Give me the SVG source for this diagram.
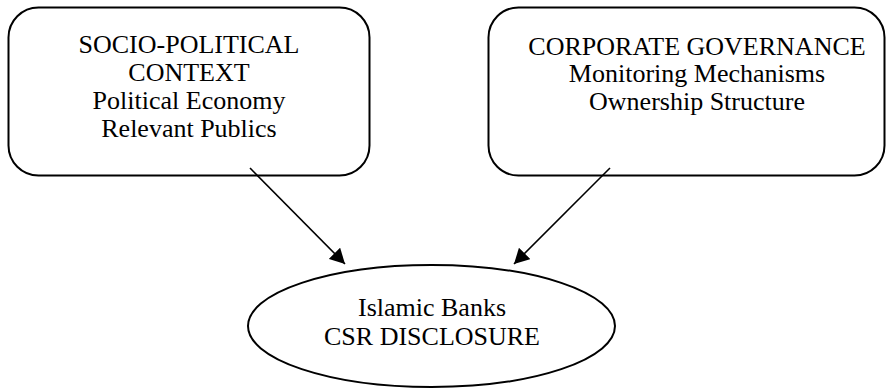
<svg xmlns="http://www.w3.org/2000/svg" width="888" height="389" viewBox="0 0 888 389">
  <style>
    .box { fill: #ffffff; stroke: #000000; stroke-width: 2; }
    .lbl { font-family: "Liberation Serif", "Times New Roman", serif; font-size: 26px; fill: #000000; text-anchor: middle; }
    .edge { stroke: #000000; stroke-width: 1.6; fill: none; marker-end: url(#head); }
  </style>
  <defs>
    <marker id="head" markerWidth="15" markerHeight="16" refX="15" refY="8" orient="auto" markerUnits="userSpaceOnUse">
      <path d="M0,0 L15,8 L0,16 Z" fill="#000000"/>
    </marker>
  </defs>
  <rect width="888" height="389" fill="#ffffff"/>

  <g id="socio-political">
    <rect class="box" x="8.5" y="7.5" width="361" height="168" rx="30" ry="30"/>
    <text class="lbl" x="189" y="53">SOCIO-POLITICAL</text>
    <text class="lbl" x="189" y="81">CONTEXT</text>
    <text class="lbl" x="189" y="109">Political Economy</text>
    <text class="lbl" x="189" y="137">Relevant Publics</text>
  </g>

  <g id="corporate-governance">
    <rect class="box" x="488.5" y="7.5" width="396" height="168" rx="30" ry="30"/>
    <text class="lbl" x="697" y="55">CORPORATE GOVERNANCE</text>
    <text class="lbl" x="697" y="82">Monitoring Mechanisms</text>
    <text class="lbl" x="697" y="110">Ownership Structure</text>
  </g>

  <g id="csr-disclosure">
    <ellipse class="box" cx="431.5" cy="326" rx="183.5" ry="61"/>
    <text class="lbl" x="432" y="316">Islamic Banks</text>
    <text class="lbl" x="432" y="345">CSR DISCLOSURE</text>
  </g>

  <g id="connectors">
    <line class="edge" x1="250" y1="168" x2="345" y2="264"/>
    <line class="edge" x1="610" y1="168" x2="514" y2="264"/>
  </g>
</svg>
